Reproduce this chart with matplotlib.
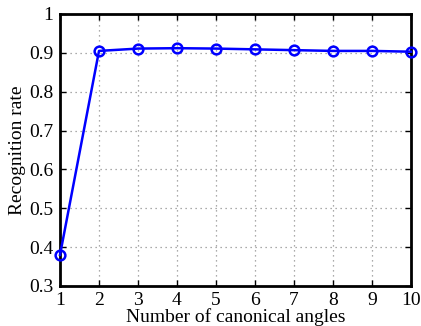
import matplotlib
matplotlib.use('Agg')
import matplotlib.pyplot as plt
import numpy as np

# Data
num_angles = [1, 2, 3, 4, 5, 6, 7, 8, 9, 10]
recognition = [0.380, 0.905, 0.911, 0.912, 0.911, 0.909, 0.907, 0.905, 0.905, 0.903]
y_ticks = [0.3, 0.4, 0.5, 0.6, 0.7, 0.8, 0.9, 1.0]
y_tick_labels = ['0.3', '0.4', '0.5', '0.6', '0.7', '0.8', '0.9', '1']

plt.rcParams['font.family'] = ['Liberation Serif', 'DejaVu Serif']

fig = plt.figure(figsize=(4.21, 3.26), dpi=100)
ax = fig.add_axes([60 / 421, 1 - 286 / 326, 351 / 421, 272 / 326])

ax.plot(num_angles, recognition, color='#0000ff', linewidth=1.8,
        marker='o', markersize=7, markerfacecolor='none',
        markeredgewidth=1.8, markeredgecolor='#0000ff', clip_on=False, zorder=3)

ax.set_xlim(1, 10)
ax.set_ylim(0.3, 1.0)
ax.set_xticks(num_angles)
ax.set_yticks(y_ticks)
ax.set_yticklabels(y_tick_labels)
ax.grid(True, linestyle=(0, (1, 3)), color='#909090', linewidth=0.9)
ax.tick_params(direction='in', top=True, right=True, labelsize=14, length=4,
               width=1)
ax.tick_params(axis='x', pad=4)
ax.tick_params(axis='y', pad=5)
for s in ax.spines.values():
    s.set_linewidth(2)

ax.set_xlabel('Number of canonical angles', fontsize=14, labelpad=0)
ax.set_ylabel('Recognition rate', fontsize=14, labelpad=2)

fig.savefig('out.png', dpi=100)
